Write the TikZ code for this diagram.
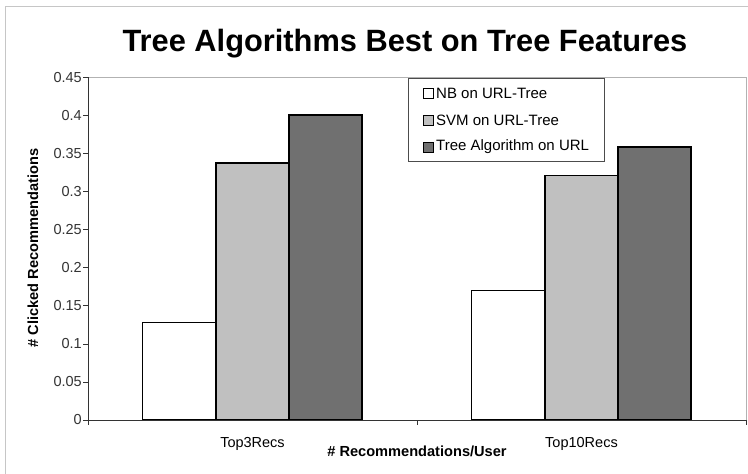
\documentclass[tikz,border=0pt]{standalone}
\usepackage{fontspec}
\setmainfont{Liberation Sans}
\definecolor{lightbar}{RGB}{192,192,192}
\definecolor{darkbar}{RGB}{112,112,112}
\begin{document}
\begin{tikzpicture}[x=1pt,y=-1pt,
    lbl/.style={font=\fontsize{14.5}{16}\selectfont},
    bar/.style={draw=black,line width=1.3pt}]
        \useasboundingbox (0,0) rectangle (748,474);
        %Frame
            \draw[gray!45,line width=1pt] (5,474) -- (5,6) -- (748,6);
        %Title
            \path node (title) at (405,51) [anchor=base,font=\fontsize{30.8}{32}\selectfont\bfseries] {Tree Algorithms Best on Tree Features};
        %Plot area
            \draw[gray!60,line width=0.8pt] (88,77) -- (746,77) -- (746,420);
        %Bars
            \foreach \x/\h/\c in {142.8/0.128/white,215.9/0.337/lightbar,289/0.4/darkbar,471.8/0.17/white,544.9/0.321/lightbar,618/0.358/darkbar}
                \draw[bar,fill=\c] (\x,420) rectangle ({\x+73.1},{420-\h*762.2});
        %Axis
            \draw[black!80,line width=1pt] (88,77) -- (88,420) -- (746,420);
            \foreach \t [count=\i] in {0,0.05,0.1,0.15,0.2,0.25,0.3,0.35,0.4,0.45}
                \draw[black!80] (83,{420-\t*762.2}) -- (88,{420-\t*762.2}) node (ytick\i) [lbl,anchor=east,inner sep=3pt,xshift=-3pt] {\t};
            \foreach \x in {88,417,746}
                \draw[black!80] (\x,420) -- (\x,425);
        %Labels
            \path node (top3) at (252.5,447) [lbl,anchor=base] {Top3Recs};
            \path node (top10) at (581.5,447) [lbl,anchor=base] {Top10Recs};
            \path node (xtitle) at (417,456) [lbl,anchor=base,font=\fontsize{14.6}{16}\selectfont\bfseries] {\# Recommendations/User};
            \path node (ytitle) at (33,248) [rotate=90,font=\fontsize{14.6}{16}\selectfont\bfseries] {\# Clicked Recommendations};
        %Legend
            \draw[black!70,fill=white] (408,78) rectangle (604,161);
            \foreach \c/\t [count=\i] in {white/NB on URL-Tree,lightbar/SVM on URL-Tree,darkbar/Tree Algorithm on URL}{
                \draw[fill=\c,line width=1pt] (423,{93+(\i-1)*27-5}) rectangle (433,{93+(\i-1)*27+5});
                \path node (leg\i) at (433,{93+(\i-1)*27}) [anchor=west,inner sep=3pt,font=\fontsize{15}{17}\selectfont] {\t};
            }
    \end{tikzpicture}
\end{document}
